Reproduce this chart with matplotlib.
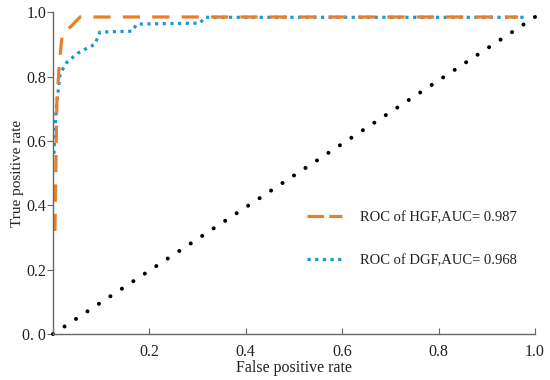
import numpy as np
import matplotlib.pyplot as plt
from matplotlib.lines import Line2D

plt.rcParams['font.family'] = ['Liberation Serif', 'DejaVu Serif']

# ROC curves
hgf_fpr = [0.004, 0.008, 0.013, 0.019, 0.040, 0.056, 0.965]
hgf_tpr = [0.32, 0.72, 0.84, 0.93, 0.96, 0.985, 0.985]

dgf_fpr = [0.002, 0.004, 0.008, 0.015, 0.029, 0.052, 0.073, 0.087, 0.097,
           0.164, 0.174, 0.305, 0.315, 0.980]
dgf_tpr = [0.56, 0.64, 0.72, 0.81, 0.845, 0.873, 0.89, 0.90, 0.938,
           0.941, 0.963, 0.966, 0.984, 0.984]

diag_x = [0.0, 1.0]
diag_y = [0.0, 0.985]

labels = ['ROC of HGF,AUC= 0.987', 'ROC of DGF,AUC= 0.968']
yticks = [0.0, 0.2, 0.4, 0.6, 0.8, 1.0]
ytick_labels = ['0. 0', '0.2', '0.4', '0.6', '0.8', '1.0']
xticks = [0.2, 0.4, 0.6, 0.8, 1.0]
xtick_labels = ['0.2', '0.4', '0.6', '0.8', '1.0']

orange = '#e8802a'
blue = '#1a9bd0'

fig = plt.figure(figsize=(5.5, 3.8), dpi=100)
ax = fig.add_axes([0.0964, 0.121, 0.8763, 0.847])

# diagonal (chance line)
ax.plot(diag_x, diag_y, color='black', lw=2.9, dashes=(0.01, 3.4),
        dash_capstyle='round', clip_on=False)
ax.plot(dgf_fpr, dgf_tpr, color=blue, lw=2.3, dashes=(1.0, 1.4),
        dash_capstyle='butt')
ax.plot(hgf_fpr, hgf_tpr, color=orange, lw=2.3, dashes=(5.4, 3.8),
        dash_capstyle='butt')

ax.set_xlim(0, 1)
ax.set_ylim(0, 1)
for s in ['top', 'right']:
    ax.spines[s].set_visible(False)
for s in ['left', 'bottom']:
    ax.spines[s].set_color('#666666')
    ax.spines[s].set_linewidth(1.0)

ax.set_yticks(yticks)
ax.set_yticklabels(ytick_labels)
ax.set_xticks(xticks)
ax.set_xticklabels(xtick_labels)
ax.tick_params(axis='y', direction='out', length=4, color='#666666',
               labelsize=11.5, pad=1, labelcolor='#222222')
ax.tick_params(axis='x', direction='in', length=4, color='#666666',
               labelsize=11.5, pad=7, labelcolor='#222222')

ax.set_xlabel('False positive rate', fontsize=11.5, labelpad=0, color='#222222')
ax.set_ylabel('True positive rate', fontsize=11, labelpad=-1, color='#222222')

# legend handles: shorter gaps than the plotted lines
h1 = Line2D([], [], color=orange, lw=2.3, dashes=(5.2, 1.6), dash_capstyle='butt')
h2 = Line2D([], [], color=blue, lw=2.3, dashes=(1.0, 1.4), dash_capstyle='butt')
ax.legend(handles=[h1, h2], labels=labels, loc='upper left',
          bbox_to_anchor=(0.515, 0.400), borderaxespad=0, frameon=False,
          fontsize=10.5, handlelength=2.4, handletextpad=1.25,
          labelspacing=2.0, labelcolor='#222222')

fig.savefig('out.png', dpi=100)
